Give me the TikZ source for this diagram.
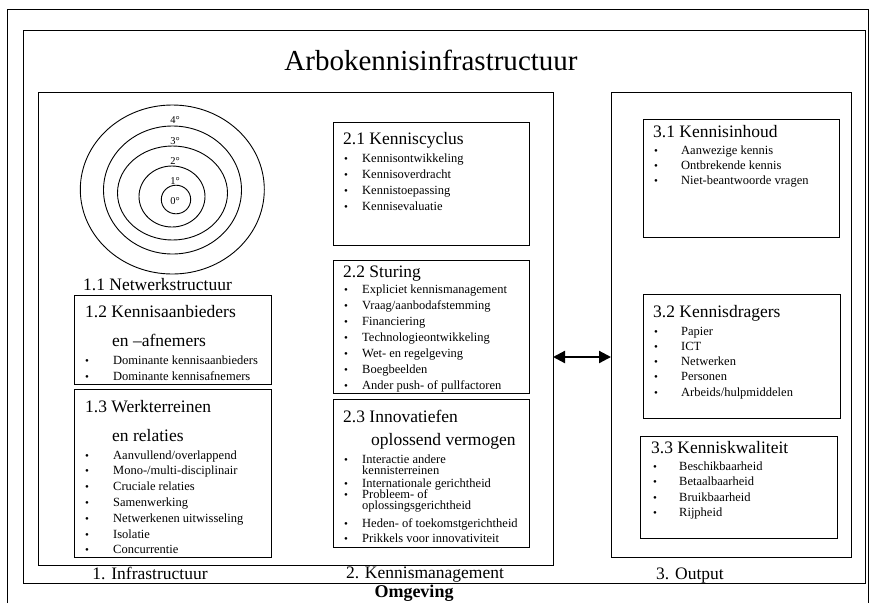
\documentclass[tikz,border=0pt]{standalone}
\usepackage{fontspec}
\setmainfont{Liberation Serif}
\usetikzlibrary{arrows.meta}

\tikzset{
  frame/.style={draw, line width=1pt},
  ring/.style={draw, line width=.9pt},
  bigtitle/.style={anchor=base, inner sep=0pt, font=\fontsize{29}{32}\selectfont},
  head/.style={anchor=base west, inner sep=0pt, font=\fontsize{17.5}{20}\selectfont},
  colname/.style={anchor=base, inner sep=0pt, font=\fontsize{17.5}{20}\selectfont},
  itm/.style={anchor=base west, inner sep=0pt, font=\fontsize{12.5}{14}\selectfont},
  bul/.style={anchor=base, inner sep=0pt, font=\fontsize{11}{12}\selectfont},
  deg/.style={anchor=base, inner sep=0pt, font=\fontsize{10.5}{12}\selectfont},
  linkarrow/.style={arrows={Triangle[length=12pt, width=12pt]-Triangle[length=12pt, width=12pt]}, line width=2.2pt},
}

\begin{document}
\begin{tikzpicture}[x=1pt, y=-1pt]
\useasboundingbox (0,0) rectangle (869,603);

% frames
\draw[frame] (7,603) -- (7,9) -- (868,9) -- (868,603);
\draw[frame] (23,30) rectangle (865,583);
\draw[frame] (38,92) rectangle (553,565);
\draw[frame] (611,92) rectangle (851,557);
\node[bigtitle] (title) at (431,70) {Arbokennisinfrastructuur};

% 1.1 rings
\foreach \cx/\cy/\rx/\ry in {176/199.5/14.7/14.3, 172/196.5/33/30.5, 172.5/193/55/47, 172.5/190/69/64, 172.3/189.5/92/84.5}
  \draw[ring] (\cx,\cy) ellipse [x radius=\rx, y radius=\ry];
\foreach \y/\d [count=\i] in {204/0, 184/1, 164/2, 144/3, 123/4}
  \node[deg] (deg\i) at (175,\y) {\d°};
\node[head] (netw) at (83,290) {1.1 Netwerkstructuur};

% 1.2
\draw[frame] (74,295) rectangle (271,384);
\node[head] (aanb) at (85,317) {1.2 Kennisaanbieders};
\node[head] (aanb2) at (112,346) {en –afnemers};
\foreach \t [count=\i] in {Dominante kennisaanbieders, Dominante kennisafnemers} {
  \node[bul] (aanb-b\i) at (87,{364+16*(\i-1)}) {•};
  \node[itm] (aanb-t\i) at (113,{364+16*(\i-1)}) {\t};
}

% 1.3
\draw[frame] (74,389) rectangle (271,557);
\node[head] (werk) at (85,412) {1.3 Werkterreinen};
\node[head] (werk2) at (112,441) {en relaties};
\foreach \t [count=\i] in {Aanvullend/overlappend, Mono-/multi-disciplinair, Cruciale relaties, Samenwerking, Netwerkenen uitwisseling, Isolatie, Concurrentie} {
  \node[bul] (werk-b\i) at (87,{459+15.8*(\i-1)}) {•};
  \node[itm] (werk-t\i) at (113,{459+15.8*(\i-1)}) {\t};
}
\node[colname] (infra) at (150,579) {1. Infrastructuur};

% 2.1
\draw[frame] (333,122) rectangle (529,245);
\node[head] (cycl) at (343,144) {2.1 Kenniscyclus};
\foreach \t [count=\i] in {Kennisontwikkeling, Kennisoverdracht, Kennistoepassing, Kennisevaluatie} {
  \node[bul] (cycl-b\i) at (346,{162+16*(\i-1)}) {•};
  \node[itm] (cycl-t\i) at (362,{162+16*(\i-1)}) {\t};
}

% 2.2
\draw[frame] (333,260) rectangle (529,393);
\node[head] (stur) at (343,277) {2.2 Sturing};
\foreach \t [count=\i] in {Expliciet kennismanagement, Vraag/aanbodafstemming, Financiering, Technologieontwikkeling, Wet- en regelgeving, Boegbeelden, Ander push- of pullfactoren} {
  \node[bul] (stur-b\i) at (346,{293+16*(\i-1)}) {•};
  \node[itm] (stur-t\i) at (362,{293+16*(\i-1)}) {\t};
}

% 2.3
\draw[frame] (333,399) rectangle (529,547);
\node[head] (innov) at (343,422) {2.3 Innovatiefen};
\node[head] (innov2) at (371,445) {oplossend vermogen};
\foreach \y/\t [count=\i] in {463/Interactie andere, 487/Internationale gerichtheid, 498/Probleem- of, 527/Heden- of toekomstgerichtheid, 542/Prikkels voor innovativiteit} {
  \node[bul] (innov-b\i) at (346,\y) {•};
  \node[itm] (innov-t\i) at (362,\y) {\t};
}
\node[itm] (innov-t1b) at (362,474) {kennisterreinen};
\node[itm] (innov-t3b) at (362,509) {oplossingsgerichtheid};
\node[colname] (kman) at (425,578) {2. Kennismanagement};

% 3.1
\draw[frame] (643,119) rectangle (839,237);
\node[head] (inh) at (653,137) {3.1 Kennisinhoud};
\foreach \t [count=\i] in {Aanwezige kennis, Ontbrekende kennis, Niet-beantwoorde vragen} {
  \node[bul] (inh-b\i) at (656,{154+15*(\i-1)}) {•};
  \node[itm] (inh-t\i) at (681,{154+15*(\i-1)}) {\t};
}

% 3.2
\draw[frame] (643,294) rectangle (840,418);
\node[head] (drag) at (653,317) {3.2 Kennisdragers};
\foreach \t [count=\i] in {Papier, ICT, Netwerken, Personen, Arbeids/hulpmiddelen} {
  \node[bul] (drag-b\i) at (656,{335+15.3*(\i-1)}) {•};
  \node[itm] (drag-t\i) at (681,{335+15.3*(\i-1)}) {\t};
}

% 3.3
\draw[frame] (640,436) rectangle (837,538);
\node[head] (kwal) at (651,453) {3.3 Kenniskwaliteit};
\foreach \t [count=\i] in {Beschikbaarheid, Betaalbaarheid, Bruikbaarheid, Rijpheid} {
  \node[bul] (kwal-b\i) at (655,{470+15.6*(\i-1)}) {•};
  \node[itm] (kwal-t\i) at (679,{470+15.6*(\i-1)}) {\t};
}
\node[colname] (outp) at (690,579) {3. Output};

% link between management and output
\coordinate (linkL) at (553,357);
\coordinate (linkR) at (611,357);
\draw[linkarrow] (linkL) -- (linkR);

\node[anchor=base, inner sep=0pt, font=\fontsize{18}{20}\selectfont\bfseries] (omg) at (414,597) {Omgeving};
\end{tikzpicture}
\end{document}
